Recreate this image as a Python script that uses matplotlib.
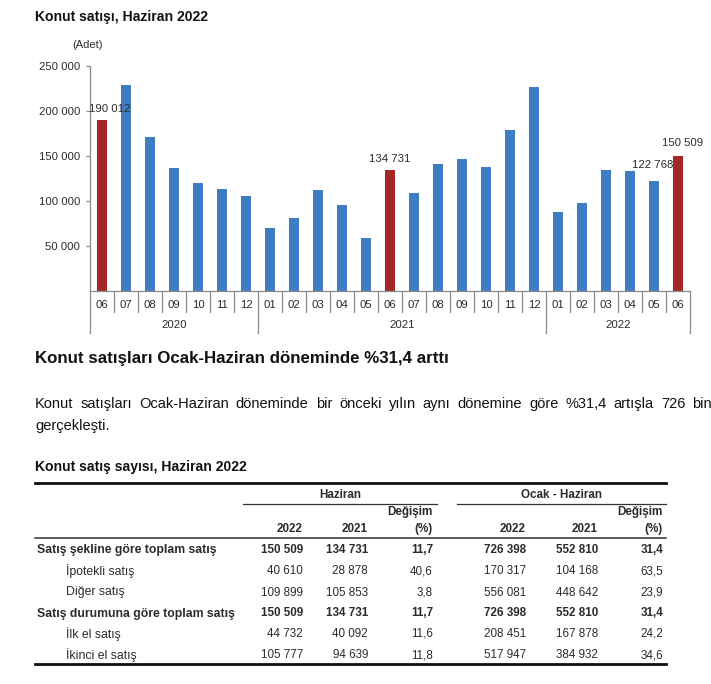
import matplotlib
matplotlib.use("Agg")
import matplotlib.pyplot as plt
from matplotlib.lines import Line2D
import matplotlib.transforms as mtrans

# ---------------- data ----------------
months = ["06", "07", "08", "09", "10", "11", "12",
          "01", "02", "03", "04", "05", "06", "07", "08", "09", "10", "11", "12",
          "01", "02", "03", "04", "05", "06"]
years = ["2020", "2021", "2022"]
year_counts = [7, 12, 6]
sales = [190012, 229357, 170872, 136918, 120000, 112883, 106000,
         70404, 81305, 111678, 95130, 58900, 134731, 108500, 141100, 147000,
         137800, 178900, 227000,
         88101, 97800, 134300, 133300, 122768, 150509]
highlight_idx = [0, 12, 24]
labeled_idx = [0, 12, 23, 24]
yticks = [50000, 100000, 150000, 200000, 250000]

table_rows = ["Satış şekline göre toplam satış", "İpotekli satış", "Diğer satış",
              "Satış durumuna göre toplam satış", "İlk el satış", "İkinci el satış"]
row_bold = [True, False, False, True, False, False]
jun_2022 = ["150 509", "40 610", "109 899", "150 509", "44 732", "105 777"]
jun_2021 = ["134 731", "28 878", "105 853", "134 731", "40 092", "94 639"]
jun_chg = ["11,7", "40,6", "3,8", "11,7", "11,6", "11,8"]
h1_2022 = ["726 398", "170 317", "556 081", "726 398", "208 451", "517 947"]
h1_2021 = ["552 810", "104 168", "448 642", "552 810", "167 878", "384 932"]
h1_chg = ["31,4", "63,5", "23,9", "31,4", "24,2", "34,6"]

# ---------------- figure ----------------
W, H = 711, 684
fig = plt.figure(figsize=(W / 100, H / 100), dpi=100)
fig.patch.set_facecolor("white")
plt.rcParams["font.family"] = ["Liberation Sans", "DejaVu Sans"]

def fx(x):
    return x / W

def fy(y):
    return 1 - y / H

def fmt(v):
    return f"{v:,}".replace(",", " ")

BLUE = "#3f7dc3"
RED = "#a52824"
GREY = "#8a8a8a"
TXT = "#2b2b2b"

# title
fig.text(fx(35), fy(17), "Konut satışı, Haziran 2022", fontsize=10.1, fontweight="bold",
         va="center", ha="left", color="#111")

# ---------------- bar chart ----------------
ax = fig.add_axes([fx(90), fy(291), 600 / W, 225 / H])
n = len(sales)
xs = list(range(n))
colors = [RED if i in highlight_idx else BLUE for i in xs]
ax.bar(xs, sales, width=0.38, color=colors, zorder=2)
ax.set_xlim(-0.5, n - 0.5)
ax.set_ylim(0, 250000)
for s in ["top", "right"]:
    ax.spines[s].set_visible(False)
for s in ["left", "bottom"]:
    ax.spines[s].set_color(GREY)
    ax.spines[s].set_linewidth(0.9)
ax.set_yticks(yticks)
ax.set_yticklabels([fmt(v) for v in yticks])
ax.tick_params(axis="y", length=3, width=0.9, pad=4, labelsize=8.2, colors=GREY, labelcolor=TXT)
ax.set_xticks(xs)
ax.set_xticklabels(months)
ax.tick_params(axis="x", length=0, pad=6.5, labelsize=8.2, labelcolor=TXT)

trans = mtrans.blended_transform_factory(ax.transData, ax.transAxes)
short = -21 / 225
long_ = -42 / 225
bounds_year = [-0.5]
acc = -0.5
for c in year_counts:
    acc += c
    bounds_year.append(acc)
for b in [i - 0.5 for i in range(n + 1)]:
    is_year = any(abs(b - yb) < 1e-9 for yb in bounds_year)
    ax.plot([b, b], [0, long_ if is_year else short], color=GREY, lw=0.9,
            transform=trans, clip_on=False)
start = -0.5
for yname, c in zip(years, year_counts):
    ax.text(start + c / 2, -34 / 225, yname, transform=trans, ha="center", va="center",
            fontsize=8.2, color=TXT)
    start += c

label_offsets = {0: (8, 11), 12: (0, 11), 23: (-1, 16), 24: (5, 13)}
for i in labeled_idx:
    dx, dy = label_offsets[i]
    ax.annotate(fmt(sales[i]), (i, sales[i]), xytext=(dx * 0.72, dy * 0.72),
                textcoords="offset points", ha="center", va="center",
                fontsize=8.2, color=TXT, zorder=3)

fig.text(fx(87.5), fy(45), "(Adet)", fontsize=8, ha="center", va="center", color=TXT)

# ---------------- heading and paragraph ----------------
fig.text(fx(35), fy(358), "Konut satışları Ocak-Haziran döneminde %31,4 arttı",
         fontsize=12.2, fontweight="bold", ha="left", va="center", color="#111")

line1 = "Konut satışları Ocak-Haziran döneminde bir önceki yılın aynı dönemine göre %31,4 artışla 726 bin"
line2 = "gerçekleşti."
renderer = fig.canvas.get_renderer()
words = line1.split(" ")
texts = []
widths = []
for w in words:
    t = fig.text(0, fy(404), w, fontsize=10.5, ha="left", va="center", color="#111")
    widths.append(t.get_window_extent(renderer).width)
    texts.append(t)
x0, x1 = 35, 712
gap = (x1 - x0 - sum(widths)) / (len(words) - 1)
cx = x0
for t, wdt in zip(texts, widths):
    t.set_x(fx(cx))
    cx += wdt + gap
fig.text(fx(35), fy(426), line2, fontsize=10.5, ha="left", va="center", color="#111")

# ---------------- table ----------------
fig.text(fx(35), fy(467), "Konut satış sayısı, Haziran 2022", fontsize=10.1, fontweight="bold",
         ha="left", va="center", color="#111")

def hline(y, xa, xb, lw, color="#111"):
    fig.add_artist(Line2D([fx(xa), fx(xb)], [fy(y), fy(y)], lw=lw, color=color,
                          transform=fig.transFigure))

hline(483, 35, 666, 2.0)
hline(504, 243, 437, 0.9, "#333")
hline(504, 457, 666, 0.9, "#333")
hline(537.5, 35, 666, 1.1, "#333")
hline(664, 35, 666, 2.0)

TS = 8.4
LS = 8.8
fig.text(fx(340), fy(494.5), "Haziran", fontsize=TS, fontweight="bold", ha="center", va="center", color=TXT)
fig.text(fx(561.5), fy(494.5), "Ocak - Haziran", fontsize=TS, fontweight="bold", ha="center", va="center", color=TXT)

col_right = [303, 368, 433, 526, 598, 663]
col_head = ["2022", "2021", "(%)", "2022", "2021", "(%)"]
for xr, h in zip(col_right, col_head):
    fig.text(fx(xr), fy(529), h, fontsize=TS, fontweight="bold", ha="right", va="center", color=TXT)
for xr in [col_right[2], col_right[5]]:
    fig.text(fx(xr), fy(512), "Değişim", fontsize=TS, fontweight="bold", ha="right", va="center", color=TXT)

row_y = [550, 571.5, 592.5, 613.5, 634, 655]
cols = [jun_2022, jun_2021, jun_chg, h1_2022, h1_2021, h1_chg]
for r, (name, bold, y) in enumerate(zip(table_rows, row_bold, row_y)):
    fw = "bold" if bold else "normal"
    fig.text(fx(37 if bold else 66), fy(y), name, fontsize=LS, fontweight=fw,
             ha="left", va="center", color=TXT)
    for xr, col in zip(col_right, cols):
        fig.text(fx(xr), fy(y), col[r], fontsize=TS, fontweight=fw, ha="right",
                 va="center", color=TXT)

fig.savefig("out.png", dpi=100, facecolor="white")
